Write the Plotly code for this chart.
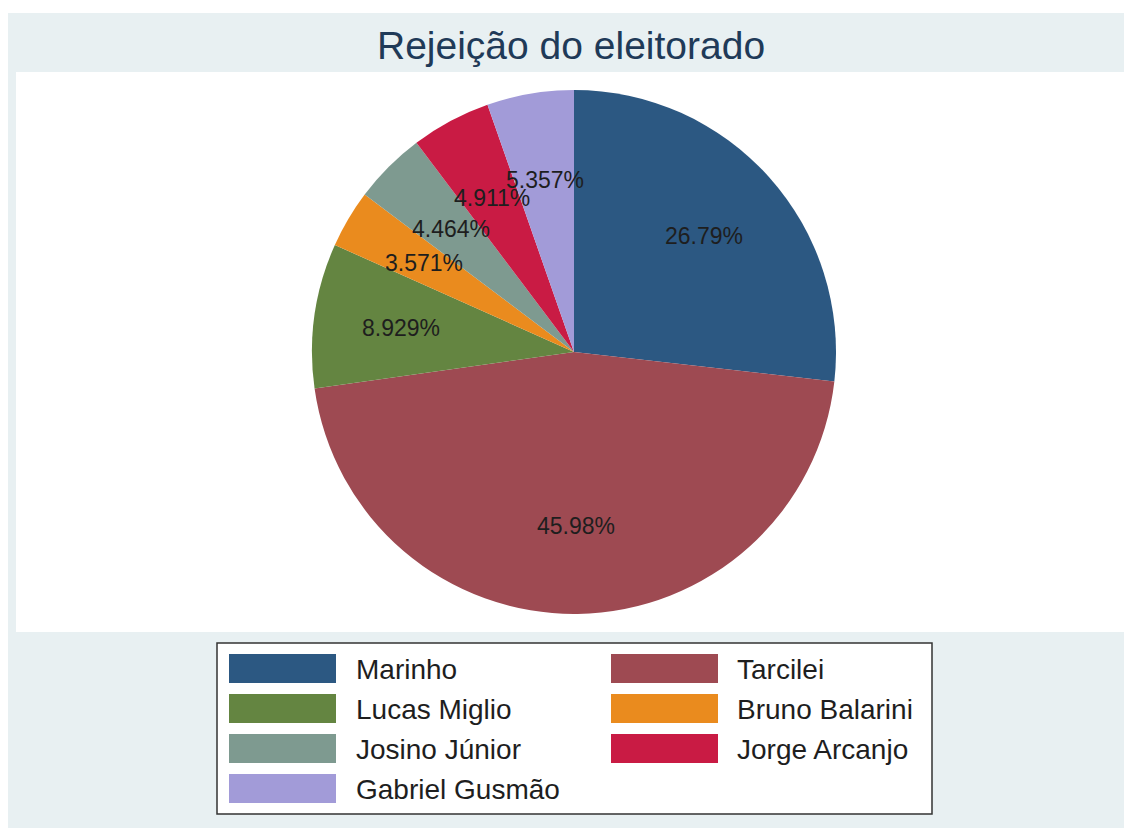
import math
import plotly.graph_objects as go

# ---- data ----
candidates = ["Marinho", "Tarcilei", "Lucas Miglio", "Bruno Balarini",
              "Josino Júnior", "Jorge Arcanjo", "Gabriel Gusmão"]
percentages = [26.79, 45.98, 8.929, 3.571, 4.464, 4.911, 5.357]
colors = ["#2C5882", "#9E4A52", "#648541", "#EA8B1E",
          "#7E9A90", "#C91B44", "#A29BD8"]
title_text = "Rejeição do eleitorado"

# page offset: browser body margin of 8px
OFF = 8
W, H = 1124, 820

def px(x):
    return (x - OFF) / W

def py(y):
    return 1 - (y - OFF) / H

# pie placement (page pixels)
cx, cy, R = 574, 352, 262
dom_x = [px(cx - R), px(cx + R)]
dom_y = [py(cy + R), py(cy - R)]

labels_txt = [f"{p:.4g}%" for p in percentages]

fig = go.Figure()
fig.add_trace(go.Pie(
    labels=candidates, values=percentages, sort=False,
    direction="clockwise", rotation=0,
    marker=dict(colors=colors, line=dict(width=0)),
    textinfo="none", hoverinfo="label+percent",
    domain=dict(x=dom_x, y=dom_y), showlegend=False,
))
# invisible helper trace so the unit axes exist
fig.add_trace(go.Scatter(x=[0], y=[0], mode="markers",
                         marker=dict(opacity=0), hoverinfo="skip",
                         showlegend=False))

# slice labels at 2/3 radius, via the hidden unit axes
total = sum(percentages)
cum = 0.0
annotations = []
for v, t in zip(percentages, labels_txt):
    mid = (cum + v / 2) / total * 2 * math.pi
    cum += v
    annotations.append(dict(
        x=0.665 * math.sin(mid), y=0.665 * math.cos(mid),
        xref="x", yref="y", text=t, showarrow=False,
        font=dict(size=23, color="#1e1e1e",
                  family="Liberation Sans, Arial, sans-serif"),
    ))

# title
annotations.append(dict(
    x=px(571), y=py(45), xref="paper", yref="paper", text=title_text,
    showarrow=False, xanchor="center", yanchor="middle",
    font=dict(size=39, color="#1F3A58",
              family="Liberation Sans, Arial, sans-serif"),
))

shapes = [
    dict(type="rect", xref="paper", yref="paper", layer="below",
         x0=0, x1=1, y0=0, y1=py(13),
         fillcolor="#E8F0F2", line=dict(width=0)),
    dict(type="rect", xref="paper", yref="paper", layer="below",
         x0=px(16), x1=px(1130), y0=py(632), y1=py(72),
         fillcolor="#FFFFFF", line=dict(width=0)),
    dict(type="rect", xref="paper", yref="paper", layer="below",
         x0=px(217), x1=px(932), y0=py(814), y1=py(643),
         fillcolor="#FFFFFF", line=dict(color="#333333", width=1.5)),
]

# legend (two columns)
sw_x = [229, 611]
tx_x = [354, 735]
for i, (name, col) in enumerate(zip(candidates, colors)):
    c, r = i % 2, i // 2
    yc = 668.5 + 40 * r
    shapes.append(dict(type="rect", xref="paper", yref="paper",
                       x0=px(sw_x[c]), x1=px(sw_x[c] + 107),
                       y0=py(yc + 14.5), y1=py(yc - 14.5),
                       fillcolor=col, line=dict(width=0)))
    annotations.append(dict(
        x=px(tx_x[c]), y=py(yc + 1), xref="paper", yref="paper",
        text=name, showarrow=False, xanchor="left", yanchor="middle",
        font=dict(size=28, color="#1e1e1e",
                  family="Liberation Sans, Arial, sans-serif"),
    ))

fig.update_layout(
    width=W, height=H, margin=dict(l=0, r=0, t=0, b=0),
    paper_bgcolor="#FFFFFF", plot_bgcolor="rgba(0,0,0,0)",
    xaxis=dict(domain=dom_x, range=[-1, 1], visible=False, fixedrange=True),
    yaxis=dict(domain=dom_y, range=[-1, 1], visible=False, fixedrange=True),
    shapes=shapes, annotations=annotations,
)

fig.write_html("out.html")
